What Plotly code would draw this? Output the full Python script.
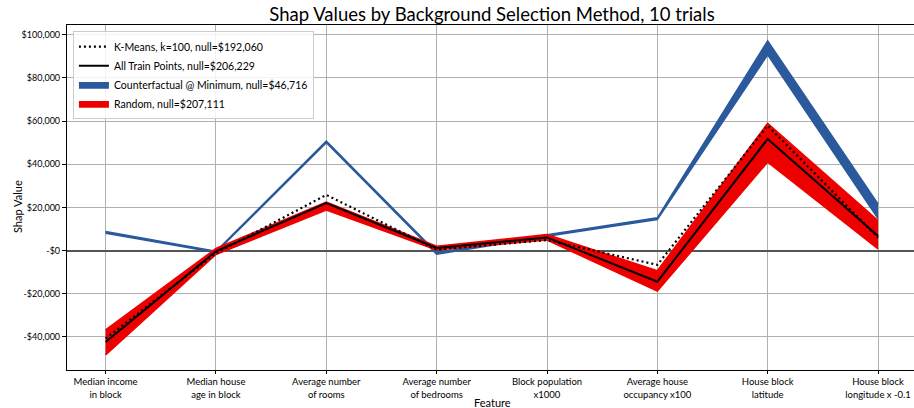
import plotly.graph_objects as go

features = ["Median income<br>in block", "Median house<br>age in block", "Average number<br>of rooms",
            "Average number<br>of bedrooms", "Block population<br>x1000", "Average house<br>occupancy x100",
            "House block<br>latitude", "House block<br>longitude x -0.1"]

kmeans = [-40700, -1200, 25800, 500, 4900, -6600, 57900, 6000]
all_train = [-42300, -300, 22000, 1200, 6100, -14400, 51700, 6800]
cf_low = [8000, -900, 50000, -1700, 6600, 14400, 90700, 14800]
cf_high = [8800, -300, 50800, -900, 7300, 15200, 97200, 21600]
rand_low = [-48300, -1800, 18800, 300, 4900, -18800, 41000, 800]
rand_high = [-36700, 1000, 22500, 2000, 7400, -9300, 59000, 13900]

y_ticks = [-40000, -20000, 0, 20000, 40000, 60000, 80000, 100000]
y_ticktext = ["-$40,000", "-$20,000", "-$0", "$20,000", "$40,000", "$60,000", "$80,000", "$100,000"]

labels = {
    "kmeans": "K-Means, k=100, null=$192,060",
    "all": "All Train Points, null=$206,229",
    "cf": "Counterfactual @ Minimum, null=$46,716",
    "rand": "Random, null=$207,111",
}

BLUE = "#2a5a9c"
RED = "#ee0000"
x = list(range(len(features)))

fig = go.Figure()
# Counterfactual band
fig.add_trace(go.Scatter(x=x, y=cf_low, mode="lines", line=dict(color=BLUE, width=1.5),
                         showlegend=False, hoverinfo="skip"))
fig.add_trace(go.Scatter(x=x, y=cf_high, mode="lines", line=dict(color=BLUE, width=1.5),
                         fill="tonexty", fillcolor=BLUE, name=labels["cf"], legendrank=3))
# Random band
fig.add_trace(go.Scatter(x=x, y=rand_low, mode="lines", line=dict(color=RED, width=1.5),
                         showlegend=False, hoverinfo="skip"))
fig.add_trace(go.Scatter(x=x, y=rand_high, mode="lines", line=dict(color=RED, width=1.5),
                         fill="tonexty", fillcolor=RED, name=labels["rand"], legendrank=4))
# All train points
fig.add_trace(go.Scatter(x=x, y=all_train, mode="lines", line=dict(color="black", width=2),
                         name=labels["all"], legendrank=2))
# K-Means
fig.add_trace(go.Scatter(x=x, y=kmeans, mode="lines", line=dict(color="black", width=2.2, dash="2px,3px"),
                         name=labels["kmeans"], legendrank=1))

font_family = "Lato, DejaVu Sans, sans-serif"

fig.update_layout(
    width=914, height=408,
    margin=dict(l=67, r=0, t=25, b=38, autoexpand=False),
    paper_bgcolor="white", plot_bgcolor="white",
    font=dict(family=font_family, size=10, color="black"),
    title=dict(text="Shap Values by Background Selection Method, 10 trials",
               x=(67 + 917) / 2 / 914, xanchor="center", xref="container",
               y=1 - 15 / 408, yanchor="middle", yref="container", automargin=False,
               font=dict(size=18.5, color="black", family=font_family)),
    showlegend=True,
    legend=dict(x=0.007, y=0.982, xanchor="left", yanchor="top", traceorder="normal",
                bgcolor="rgba(255,255,255,0.85)", bordercolor="#cccccc", borderwidth=1,
                font=dict(size=10.5, family=font_family), tracegroupgap=0),
    annotations=[
        dict(text="Feature", xref="paper", yref="paper",
             x=0.5 * (917 - 67) / 847, y=-(403 - 370) / 345,
             xanchor="center", yanchor="middle", showarrow=False,
             font=dict(size=11, family=font_family, color="black")),
        dict(text="Shap Value", xref="paper", yref="paper",
             x=(17 - 67) / 847, y=(370 - 207) / 345, textangle=-90,
             xanchor="center", yanchor="middle", showarrow=False,
             font=dict(size=11, family=font_family, color="black")),
    ],
)

fig.update_xaxes(
    range=[-0.35, 7.326], tickmode="array", tickvals=x, ticktext=features,
    showgrid=True, gridcolor="#b0b0b0", gridwidth=1,
    showline=True, linecolor="black", linewidth=1, mirror=True,
    ticks="outside", ticklen=3, tickcolor="black",
    zeroline=False, automargin=False,
    tickfont=dict(size=9.5),
)
fig.update_yaxes(
    range=[-55300, 104500], tickmode="array", tickvals=y_ticks, ticktext=y_ticktext,
    showgrid=True, gridcolor="#b0b0b0", gridwidth=1,
    showline=True, linecolor="black", linewidth=1.2, mirror=False,
    ticks="outside", ticklen=4, tickcolor="black",
    zeroline=True, zerolinecolor="#555555", zerolinewidth=1.5, automargin=False,
    tickfont=dict(size=9),
)

fig.write_html("out.html", config={"displayModeBar": False},
               post_script="document.body.style.margin='0';")
